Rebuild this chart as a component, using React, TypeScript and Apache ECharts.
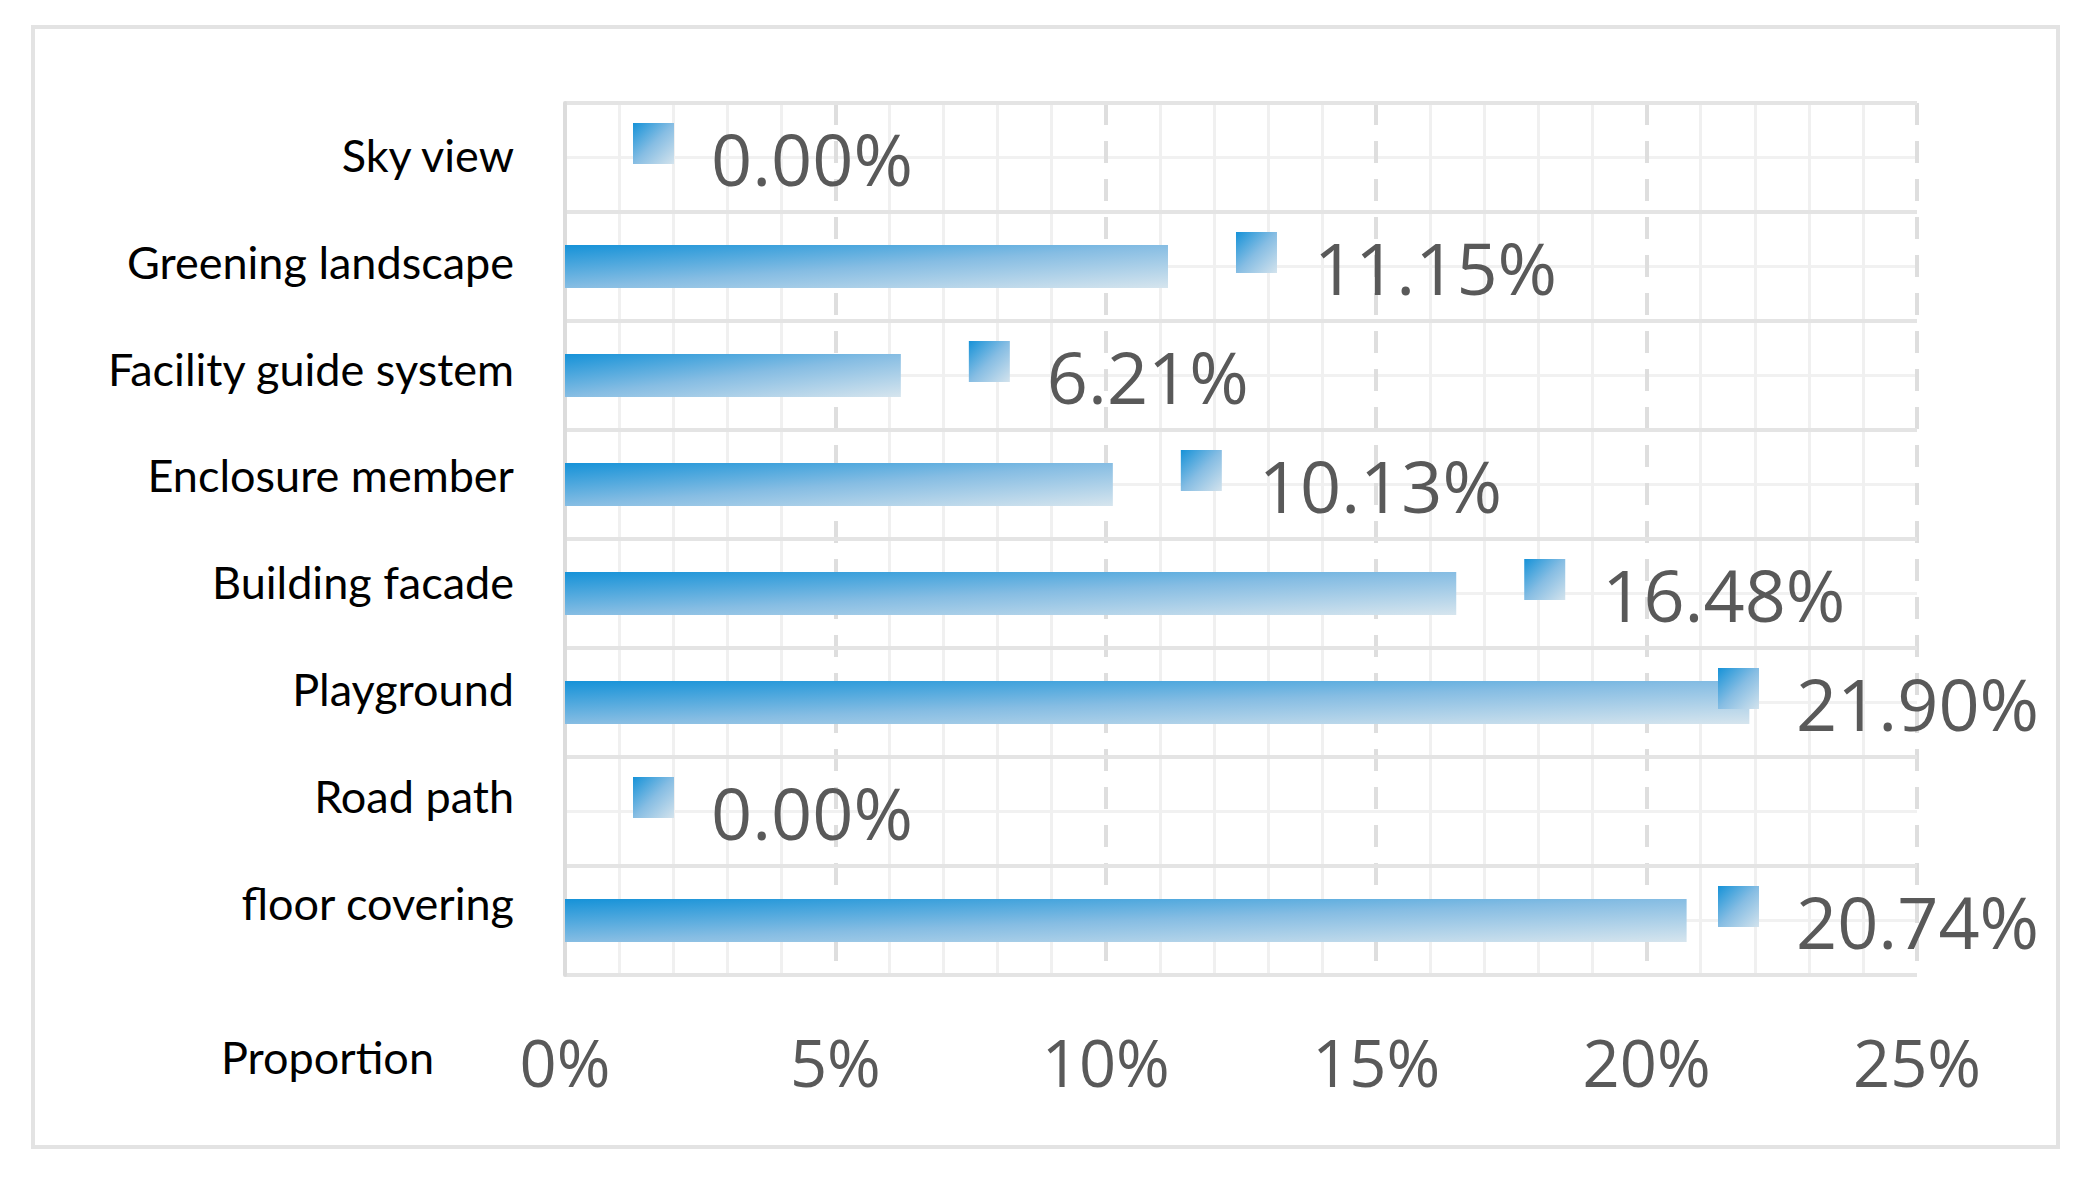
import React, { useEffect, useRef } from 'react';
import * as echarts from 'echarts';

// ---- data ----
const categories = [
  'Sky view',
  'Greening landscape',
  'Facility guide system',
  'Enclosure member',
  'Building facade',
  'Playground',
  'Road path',
  'floor covering',
];
const proportions = [0.0, 11.15, 6.21, 10.13, 16.48, 21.9, 0.0, 20.74];
const axisMin = 0;
const axisMax = 25;
const axisStep = 5;
const axisTitle = 'Proportion';

// ---- layout / style constants ----
const W = 2084;
const H = 1185;
const LABEL_MAX_X = 1718;
const LABEL_DY = -14;

export default function App() {
  const ref = useRef<HTMLDivElement>(null);

  useEffect(() => {
    document.body.style.margin = '0';
    const chart = echarts.init(ref.current!, null, { renderer: 'svg' });

    const barGradient = new echarts.graphic.LinearGradient(0, 0, 1, 1, [
      { offset: 0, color: '#1592d8' },
      { offset: 0.5, color: '#86bde3' },
      { offset: 1, color: '#d6e5ee' },
    ]);
    const sqGradient = new echarts.graphic.LinearGradient(0, 0, 1, 1, [
      { offset: 0, color: '#1592d8' },
      { offset: 0.5, color: '#86bde3' },
      { offset: 1, color: '#d3e3ed' },
    ]);

    const catRich: Record<string, any> = {};
    categories.forEach((_, i) => {
      const s = 2.5 + 2.2 * i;
      catRich['r' + i] = {
        fontFamily: 'Lato',
        fontSize: 45,
        color: '#000000',
        padding: [0, 0, 2 * s, 0],
      };
    });

    const option: any = {
      animation: false,
      backgroundColor: '#ffffff',
      grid: { left: 565, right: W - 1917, top: 103, bottom: H - 975, containLabel: false },
      graphic: [
        {
          type: 'rect',
          silent: true,
          z: -10,
          shape: { x: 33, y: 27, width: 2025, height: 1120 },
          style: { fill: 'none', stroke: '#e3e3e3', lineWidth: 4 },
        },
        {
          type: 'text',
          silent: true,
          x: 434,
          y: 1057,
          style: {
            text: axisTitle,
            font: '45px Lato',
            fill: '#000000',
            align: 'right',
            verticalAlign: 'middle',
            textAlign: 'right',
            textVerticalAlign: 'middle',
          },
        },
      ],
      xAxis: {
        type: 'value',
        min: axisMin,
        max: axisMax,
        interval: axisStep,
        axisLine: { show: false },
        axisTick: { show: false },
        axisLabel: {
          formatter: '{value}%',
          fontFamily: 'Open Sans',
          fontSize: 65,
          color: '#595959',
          margin: 54,
        },
        splitLine: { show: true, lineStyle: { color: '#dedede', width: 4, type: [22, 16] } },
        minorTick: { show: false, splitNumber: 5 },
        minorSplitLine: { show: true, lineStyle: { color: '#f0f0f0', width: 3 } },
      },
      yAxis: [
        {
          type: 'category',
          inverse: true,
          z: 2,
          data: categories,
          axisLine: { show: true, lineStyle: { color: '#dcdcdc', width: 4 } },
          axisTick: { show: false },
          axisLabel: {
            margin: 51,
            fontFamily: 'Lato',
            fontSize: 45,
            color: '#000000',
            formatter: (value: string, index: number) => `{r${index}|${value}}`,
            rich: catRich,
          },
          splitLine: { show: true, lineStyle: { color: '#e4e4e4', width: 4 } },
        },
        {
          type: 'value',
          z: -1,
          min: 0,
          max: 8,
          interval: 0.5,
          axisLine: { show: false },
          axisTick: { show: false },
          axisLabel: { show: false },
          splitLine: { show: true, lineStyle: { color: '#f1f1f1', width: 3 } },
        },
      ],
      series: [
        {
          type: 'bar',
          yAxisIndex: 0,
          data: proportions,
          barWidth: 43,
          itemStyle: { color: barGradient },
          label: {
            show: true,
            position: 'right',
            distance: 68,
            formatter: (p: any) => `{sq|}{v|${Number(p.value).toFixed(2)}%}`,
            rich: {
              sq: { width: 41, height: 41, backgroundColor: sqGradient },
              v: {
                fontFamily: 'Open Sans',
                fontSize: 72,
                color: '#595959',
                padding: [29, 0, 0, 37],
              },
            },
          },
          labelLayout: (params: any) => {
            const r = params.labelRect;
            const out: any = { dy: LABEL_DY };
            if (r && r.x > LABEL_MAX_X) {
              out.dx = LABEL_MAX_X - r.x;
            }
            return out;
          },
        },
      ],
    };

    chart.setOption(option);
    return () => chart.dispose();
  }, []);

  return <div ref={ref} style={{ width: W, height: H }} />;
}
